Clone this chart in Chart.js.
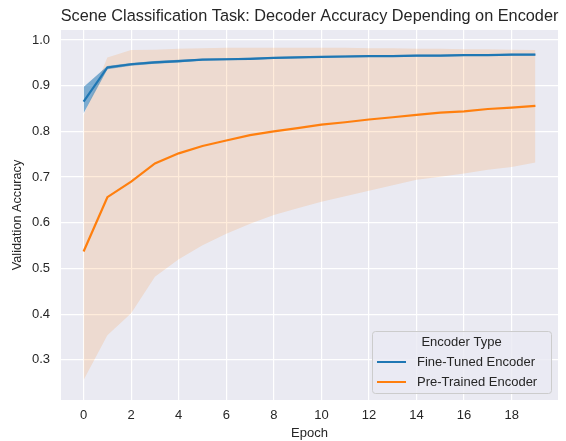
<!DOCTYPE html>
<html>
<head>
<meta charset="utf-8">
<script src="https://cdn.jsdelivr.net/npm/chart.js@4"></script>
<style>
  html, body { margin: 0; padding: 0; background: #ffffff; }
  #wrap { width: 566px; height: 441px; }
</style>
</head>
<body>
<div id="wrap"><canvas id="accChart" width="566" height="441"></canvas></div>
<script>
const epochs = [0, 1, 2, 3, 4, 5, 6, 7, 8, 9, 10, 11, 12, 13, 14, 15, 16, 17, 18, 19];
const fineTunedMean = [0.865, 0.940, 0.947, 0.951, 0.954, 0.957, 0.958, 0.959, 0.961, 0.962, 0.963, 0.964, 0.965, 0.965, 0.966, 0.966, 0.967, 0.967, 0.968, 0.968];
const fineTunedHigh = [0.897, 0.943, 0.950, 0.954, 0.957, 0.959, 0.960, 0.961, 0.963, 0.964, 0.965, 0.966, 0.967, 0.967, 0.968, 0.968, 0.969, 0.969, 0.970, 0.970];
const fineTunedLow  = [0.840, 0.936, 0.944, 0.948, 0.951, 0.955, 0.956, 0.957, 0.959, 0.960, 0.961, 0.962, 0.963, 0.963, 0.964, 0.964, 0.965, 0.965, 0.966, 0.966];
const preTrainedMean = [0.537, 0.656, 0.690, 0.730, 0.752, 0.768, 0.780, 0.792, 0.800, 0.807, 0.815, 0.820, 0.826, 0.831, 0.836, 0.841, 0.844, 0.849, 0.852, 0.856];
const preTrainedHigh = [0.835, 0.962, 0.978, 0.979, 0.981, 0.982, 0.983, 0.983, 0.983, 0.983, 0.983, 0.983, 0.982, 0.982, 0.981, 0.981, 0.980, 0.980, 0.979, 0.978];
const preTrainedLow  = [0.256, 0.354, 0.402, 0.482, 0.520, 0.551, 0.576, 0.598, 0.617, 0.632, 0.646, 0.658, 0.670, 0.682, 0.694, 0.701, 0.708, 0.716, 0.722, 0.732];
const xTicks = [0, 2, 4, 6, 8, 10, 12, 14, 16, 18];
const yTicks = [0.3, 0.4, 0.5, 0.6, 0.7, 0.8, 0.9, 1.0];
const seriesNames = ['Fine-Tuned Encoder', 'Pre-Trained Encoder'];
const chartTitle = 'Scene Classification Task: Decoder Accuracy Depending on Encoder';

const FONT = "'Liberation Sans', Arial, sans-serif";
const TEXT = '#262626';
const BLUE = '#1f77b4', ORANGE = '#ff7f0e';

const pts = arr => epochs.map((e, i) => ({ x: e, y: arr[i] }));

// grey axes background + title centred over the plot area
const bgPlugin = {
    id: 'bg',
    beforeDraw(chart) {
        const { ctx, chartArea: a } = chart;
        ctx.save();
        ctx.fillStyle = '#eaeaf2';
        ctx.fillRect(a.left, a.top, a.right - a.left, a.bottom - a.top);
        ctx.font = '16.3px ' + FONT;
        ctx.fillStyle = TEXT;
        ctx.textAlign = 'center';
        ctx.textBaseline = 'alphabetic';
        ctx.fillText(chartTitle, (a.left + a.right) / 2, 20.7);
        ctx.restore();
    }
};

// legend box inside the plot, lower right
const legendPlugin = {
    id: 'innerLegend',
    afterDraw(chart) {
        const ctx = chart.ctx;
        const x0 = 372, y0 = 331, w = 179, h = 62;
        ctx.save();
        ctx.beginPath();
        ctx.roundRect(x0 + 0.5, y0 + 0.5, w, h, 3);
        ctx.fillStyle = 'rgba(234,234,242,0.8)';
        ctx.fill();
        ctx.strokeStyle = '#cccccc';
        ctx.lineWidth = 1;
        ctx.stroke();
        ctx.font = '13px ' + FONT;
        ctx.fillStyle = TEXT;
        ctx.textBaseline = 'middle';
        ctx.textAlign = 'center';
        ctx.fillText('Encoder Type', x0 + w / 2, y0 + 11);
        ctx.textAlign = 'left';
        [0, 1].forEach(i => {
            const y = y0 + 31 + i * 20;
            ctx.strokeStyle = chart.data.datasets[i].borderColor;
            ctx.lineWidth = 2;
            ctx.beginPath();
            ctx.moveTo(x0 + 5, y);
            ctx.lineTo(x0 + 34, y);
            ctx.stroke();
            ctx.fillText(chart.data.datasets[i].label, x0 + 45, y);
        });
        ctx.restore();
    }
};

const ctx = document.getElementById('accChart').getContext('2d');
new Chart(ctx, {
    type: 'line',
    data: {
        datasets: [
            { label: seriesNames[0], data: pts(fineTunedMean), borderColor: BLUE, borderWidth: 2.2, pointRadius: 0, fill: false, order: 0 },
            { label: seriesNames[1], data: pts(preTrainedMean), borderColor: ORANGE, borderWidth: 2.2, pointRadius: 0, fill: false, order: 1 },
            { label: 'ft-high', data: pts(fineTunedHigh), borderWidth: 0, pointRadius: 0, fill: '+1', backgroundColor: 'rgba(31,119,180,0.55)', order: 2 },
            { label: 'ft-low', data: pts(fineTunedLow), borderWidth: 0, pointRadius: 0, fill: false, order: 3 },
            { label: 'pt-high', data: pts(preTrainedHigh), borderWidth: 0, pointRadius: 0, fill: '+1', backgroundColor: 'rgba(255,127,14,0.15)', order: 4 },
            { label: 'pt-low', data: pts(preTrainedLow), borderWidth: 0, pointRadius: 0, fill: false, order: 5 }
        ]
    },
    options: {
        responsive: false,
        animation: false,
        devicePixelRatio: 1,
        layout: { padding: { left: 0, right: 8, top: 30, bottom: 0 } },
        elements: { line: { tension: 0 } },
        plugins: {
            legend: { display: false },
            tooltip: { enabled: false },
            title: { display: false }
        },
        scales: {
            x: {
                type: 'linear',
                min: -0.95,
                max: 19.95,
                afterBuildTicks: s => { s.ticks = xTicks.map(v => ({ value: v })); },
                afterFit: s => { s.height = 41; },
                grid: { color: '#ffffff', lineWidth: 1.2, drawTicks: false },
                border: { display: false },
                ticks: { color: TEXT, padding: 8, font: { family: FONT, size: 13 }, callback: v => String(v) },
                title: { display: true, text: 'Epoch', color: TEXT, font: { family: FONT, size: 13 }, padding: { top: 0, bottom: 0 } }
            },
            y: {
                min: 0.212,
                max: 1.022,
                afterBuildTicks: s => { s.ticks = yTicks.map(v => ({ value: v })); },
                afterFit: s => { s.width = 61; },
                grid: { color: '#ffffff', lineWidth: 1.2, drawTicks: false },
                border: { display: false },
                ticks: { color: TEXT, padding: 11, font: { family: FONT, size: 13 }, callback: v => Number(v).toFixed(1) },
                title: { display: true, text: 'Validation Accuracy', color: TEXT, font: { family: FONT, size: 12.7 }, padding: { top: 10, bottom: 0 } }
            }
        }
    },
    plugins: [bgPlugin, legendPlugin]
});
</script>
</body>
</html>
